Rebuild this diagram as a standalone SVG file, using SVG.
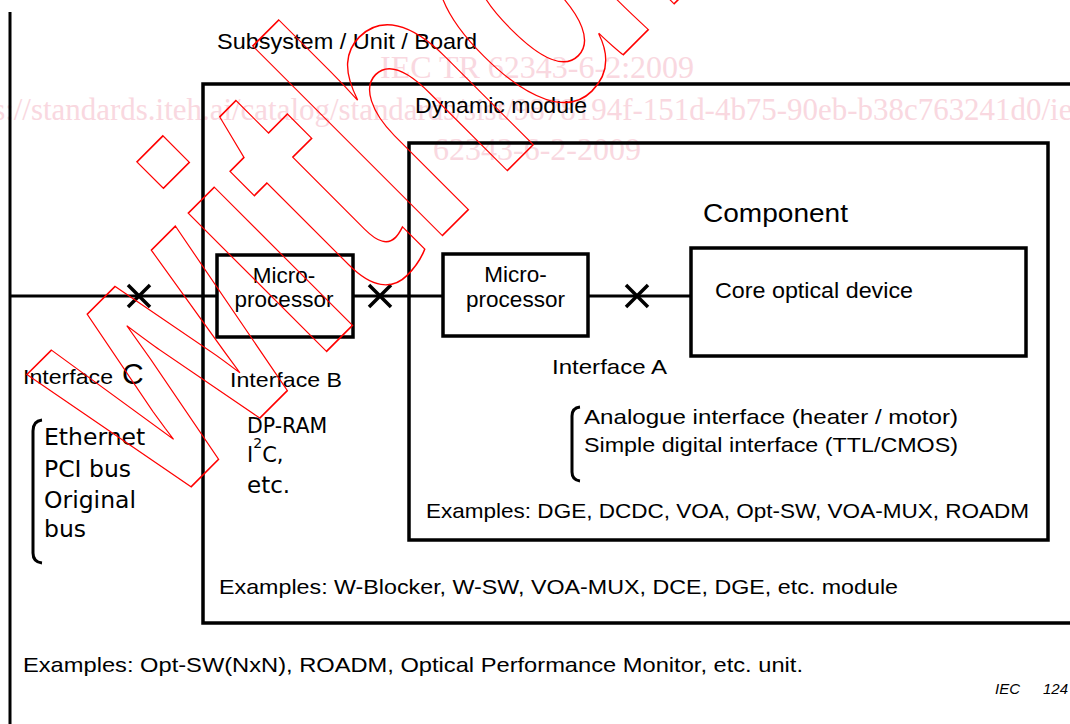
<svg xmlns="http://www.w3.org/2000/svg" width="1070" height="724" viewBox="0 0 1070 724">
<style>
.ln{stroke:#000;stroke-width:3;fill:none}
.xm{stroke:#000;stroke-width:3.5;fill:none}
.bx{stroke:#000;stroke-width:3.5;fill:none}
.t{font-family:"Liberation Sans",Arial,sans-serif;fill:#000}
.v{font-family:"DejaVu Sans",Verdana,sans-serif;fill:#000}
.pk{font-family:"Liberation Serif","Times New Roman",serif;font-size:32px;fill:#f9d8e0}
.wm{font-family:"Liberation Sans",Arial,sans-serif;font-weight:bold;font-size:370px;fill:none;stroke:#f00;stroke-width:1.6}
</style>
<rect width="1070" height="724" fill="#fff"/>
<g id="background-marks">
<text class="pk" x="537" y="78" text-anchor="middle">IEC TR 62343-6-2:2009</text>
<text class="pk" x="535" y="120" text-anchor="middle" font-size="31" textLength="1180" lengthAdjust="spacingAndGlyphs">https://standards.iteh.ai/catalog/standards/sist/9878194f-151d-4b75-90eb-b38c763241d0/iec-tr-</text>
<text class="pk" x="537" y="160" text-anchor="middle">62343-6-2-2009</text>
</g>
<g id="connectors">
<line class="ln" x1="10" y1="12" x2="10" y2="730"/>
<line class="ln" x1="10" y1="296" x2="217" y2="296"/>
<line class="ln" x1="353" y1="296" x2="443" y2="296"/>
<line class="ln" x1="588" y1="296" x2="691" y2="296"/>
<path class="xm" d="M128,285 L150,307 M150,285 L128,307"/>
<path class="xm" d="M369,285 L391,307 M391,285 L369,307"/>
<path class="xm" d="M626,285 L648,307 M648,285 L626,307"/>
</g>
<g id="subsystem">
<text class="t" x="217" y="49" font-size="22" textLength="260" lengthAdjust="spacingAndGlyphs">Subsystem / Unit / Board</text>
<text class="t" x="23" y="672" font-size="21" textLength="780" lengthAdjust="spacingAndGlyphs">Examples:  Opt-SW(NxN), ROADM, Optical Performance Monitor, etc.  unit.</text>
</g>
<g id="interface-c">
<text class="t" x="23" y="384" font-size="20" textLength="90" lengthAdjust="spacingAndGlyphs">Interface</text>
<text class="t" x="122" y="384" font-size="30">C</text>
<path class="ln" stroke-width="1.5" d="M42,420 Q33,421 33,431 L33,553 Q33,562 42,563"/>
<text class="v" font-size="23.5"><tspan x="44" y="445">Ethernet</tspan><tspan x="44" y="477">PCI bus</tspan><tspan x="44" y="508">Original</tspan><tspan x="44" y="537">bus</tspan></text>
</g>
<g id="dynamic-module">
<rect class="bx" x="203" y="84" width="880" height="539"/>
<text class="t" x="415" y="113" font-size="22" textLength="172" lengthAdjust="spacingAndGlyphs">Dynamic module</text>
<text class="t" x="219" y="594" font-size="21" textLength="679" lengthAdjust="spacingAndGlyphs">Examples:  W-Blocker, W-SW, VOA-MUX, DCE, DGE,  etc. module</text>
</g>
<g id="microprocessor-b">
<rect class="bx" x="217" y="255" width="136" height="82"/>
<text class="t" x="284" y="283" font-size="22.5" text-anchor="middle">Micro-</text>
<text class="t" x="284" y="307" font-size="22.5" text-anchor="middle">processor</text>
</g>
<g id="interface-b">
<text class="t" x="230" y="387" font-size="21" textLength="112" lengthAdjust="spacingAndGlyphs">Interface B</text>
<text class="v" x="247" y="433" font-size="20.5">DP-RAM</text>
<text class="v" x="247" y="462" font-size="21">I<tspan font-size="14" dy="-14">2</tspan><tspan dy="14">C,</tspan></text>
<text class="v" x="247" y="493" font-size="23">etc.</text>
</g>
<g id="component">
<rect class="bx" x="409" y="143" width="639" height="397"/>
<text class="t" x="703" y="222" font-size="25" textLength="145" lengthAdjust="spacingAndGlyphs">Component</text>
<text class="t" x="426" y="518" font-size="21" textLength="603" lengthAdjust="spacingAndGlyphs">Examples:  DGE, DCDC, VOA, Opt-SW, VOA-MUX, ROADM</text>
</g>
<g id="microprocessor-a">
<rect class="bx" x="443" y="254" width="145" height="82"/>
<text class="t" x="515.5" y="282" font-size="22.5" text-anchor="middle">Micro-</text>
<text class="t" x="515.5" y="307" font-size="22.5" text-anchor="middle">processor</text>
</g>
<g id="core-optical-device">
<rect class="bx" x="691" y="248" width="335" height="108"/>
<text class="t" x="715" y="298" font-size="22" textLength="198" lengthAdjust="spacingAndGlyphs">Core optical device</text>
</g>
<g id="interface-a">
<text class="t" x="552" y="374" font-size="21" textLength="115" lengthAdjust="spacingAndGlyphs">Interface  A</text>
<path class="ln" stroke-width="1.5" d="M580,407 Q572,408 572,416 L572,472 Q572,480 580,481"/>
<text class="t" x="584" y="424" font-size="21" textLength="374" lengthAdjust="spacingAndGlyphs">Analogue interface (heater / motor)</text>
<text class="t" x="584" y="452" font-size="21" textLength="374" lengthAdjust="spacingAndGlyphs">Simple digital interface (TTL/CMOS)</text>
</g>
<g id="figure-ref">
<text class="t" x="995" y="694" font-size="15" font-style="italic">IEC<tspan x="1043">124</tspan></text>
</g>
<g id="watermark">
<text class="wm" transform="translate(165.7,512.2) rotate(-45) scale(0.725,1)" x="0" y="0">withdrawn</text>
</g>
</svg>
